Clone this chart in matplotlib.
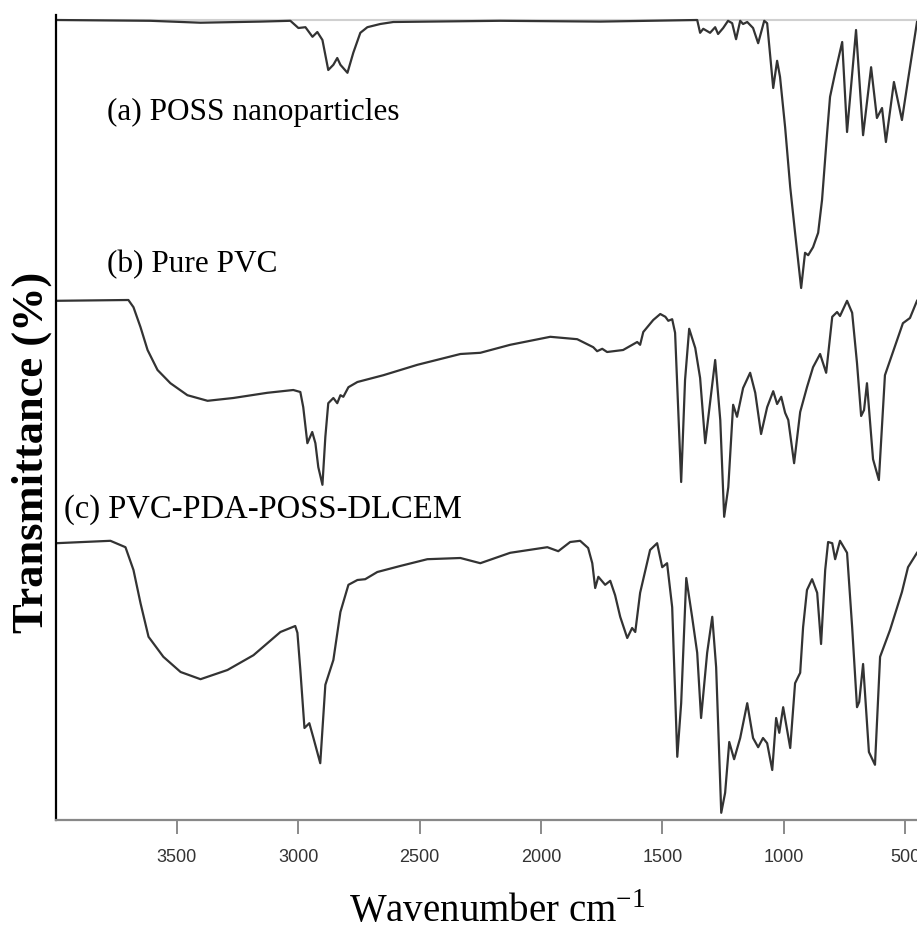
import numpy as np
import matplotlib
matplotlib.use('Agg')
import matplotlib.pyplot as plt

# wavenumber (cm-1) / stacked transmittance (arb. units, offset per spectrum)
wn_a = [3996, 3608, 3402, 3155, 3032, 2999, 2970, 2941, 2921, 2900, 2876, 2855, 2839, 2826,
        2797, 2773, 2744, 2715, 2662, 2608, 2168, 1756, 1357, 1345, 1332, 1304, 1283, 1271,
        1250, 1230, 1213, 1197, 1180, 1168, 1151, 1127, 1106, 1081, 1069, 1044, 1028, 1016,
        995, 974, 954, 929, 913, 900, 880, 859, 843, 822, 810, 789, 760, 740, 703, 674, 641,
        617, 596, 580, 547, 514, 489, 452]
t_a = [100.0, 99.9, 99.66, 99.8, 99.9, 99.0, 99.1, 97.9, 98.5, 97.5, 93.75, 94.4, 95.25, 94.4,
       93.4, 95.9, 98.4, 99.1, 99.5, 99.75, 99.9, 99.8, 100.0, 98.4, 98.9, 98.4, 99.1, 98.25,
       99.0, 99.9, 99.6, 97.6, 99.9, 99.5, 99.75, 99.0, 97.1, 99.9, 99.6, 91.5, 94.9, 92.9,
       86.6, 79.1, 73.4, 66.5, 70.9, 70.6, 71.6, 73.4, 77.5, 85.9, 90.4, 93.4, 97.25, 86.0,
       98.75, 85.6, 94.1, 87.75, 89.0, 84.75, 92.25, 87.5, 92.5, 99.75]

wn_b = [3996, 3699, 3678, 3649, 3620, 3579, 3526, 3456, 3373, 3267, 3127, 3020, 2991, 2979,
        2962, 2942, 2929, 2917, 2900, 2888, 2876, 2855, 2839, 2826, 2814, 2793, 2756, 2649,
        2509, 2332, 2250, 2127, 1962, 1851, 1785, 1769, 1748, 1728, 1662, 1604, 1592, 1579,
        1538, 1509, 1488, 1476, 1460, 1448, 1423, 1407, 1390, 1365, 1345, 1324, 1283, 1262,
        1246, 1229, 1209, 1193, 1168, 1139, 1118, 1094, 1069, 1044, 1028, 1011, 995, 982,
        958, 933, 905, 880, 851, 826, 801, 781, 769, 740, 719, 699, 682, 670, 658, 633, 609,
        584, 551, 510, 481, 452]
t_b = [64.9, 65.0, 64.1, 61.6, 58.75, 56.25, 54.6, 53.1, 52.4, 52.75, 53.4, 53.75, 53.5, 51.6,
       47.1, 48.5, 47.1, 44.1, 41.9, 47.9, 52.1, 52.75, 52.1, 53.1, 52.9, 54.1, 54.75, 55.6,
       56.9, 58.25, 58.4, 59.4, 60.4, 60.1, 59.1, 58.6, 58.9, 58.5, 58.75, 59.75, 59.4, 61.0,
       62.5, 63.25, 62.9, 62.4, 62.6, 60.9, 42.25, 55.0, 61.4, 59.0, 55.25, 47.1, 57.5, 50.0,
       37.9, 41.6, 51.9, 50.4, 54.0, 55.9, 53.4, 48.25, 51.6, 53.6, 52.0, 52.9, 50.9, 50.0,
       44.6, 51.0, 54.1, 56.6, 58.25, 55.9, 62.9, 63.5, 63.0, 64.9, 63.4, 57.1, 50.5, 51.25,
       54.6, 45.1, 42.5, 55.6, 58.5, 62.1, 62.75, 64.9]

wn_c = [3996, 3773, 3711, 3678, 3649, 3616, 3555, 3484, 3402, 3291, 3184, 3073, 3012, 3003,
        2991, 2974, 2954, 2937, 2909, 2888, 2855, 2826, 2793, 2756, 2724, 2674, 2580, 2468,
        2332, 2250, 2127, 1974, 1929, 1880, 1839, 1806, 1789, 1777, 1764, 1736, 1715, 1695,
        1674, 1645, 1625, 1612, 1592, 1551, 1522, 1501, 1481, 1460, 1439, 1423, 1402, 1378,
        1357, 1341, 1316, 1295, 1279, 1258, 1242, 1225, 1205, 1180, 1151, 1127, 1106, 1086,
        1069, 1048, 1032, 1019, 1003, 974, 954, 933, 921, 905, 884, 863, 847, 830, 818, 801,
        789, 769, 740, 719, 699, 690, 674, 650, 625, 604, 563, 514, 489, 452]
t_c = [34.6, 34.9, 34.1, 31.25, 27.1, 22.9, 20.4, 18.5, 17.6, 18.75, 20.6, 23.5, 24.25, 23.4,
       18.75, 11.5, 12.1, 10.25, 7.1, 16.9, 20.0, 26.0, 29.4, 30.0, 30.1, 31.0, 31.75, 32.6,
       32.75, 32.1, 33.4, 34.1, 33.6, 34.75, 34.9, 34.0, 32.1, 29.0, 30.4, 29.4, 29.9, 28.1,
       25.4, 22.75, 24.0, 23.5, 28.4, 33.75, 34.6, 31.6, 32.1, 26.6, 7.9, 14.6, 30.25, 25.4,
       20.9, 12.75, 20.9, 25.4, 19.1, 0.9, 3.4, 9.75, 7.6, 10.25, 14.6, 10.25, 9.1, 10.25,
       9.6, 6.25, 12.75, 10.9, 14.1, 9.0, 17.1, 18.4, 24.1, 28.75, 30.1, 28.4, 22.0, 31.25,
       34.75, 34.6, 32.6, 34.9, 33.4, 24.1, 14.1, 14.75, 19.5, 8.5, 6.9, 20.4, 23.75, 28.5,
       31.6, 33.4]

labels = ['(a) POSS nanoparticles', '(b) Pure PVC', '(c) PVC-PDA-POSS-DLCEM']
label_x = [3785, 3785, 3966]
label_y = [88.5, 69.4, 38.75]
label_size = [22.5, 22.5, 23.5]
xticks = [3500, 3000, 2500, 2000, 1500, 1000, 500]

fig = plt.figure(figsize=(9.17, 9.38), dpi=100)
ax = fig.add_axes([56/917, (938-820)/938, 1-56/917, (820-15)/938])

ax.axhline(100, color='#d0d0d0', lw=1.5, zorder=1)
for wn, t in [(wn_a, t_a), (wn_b, t_b), (wn_c, t_c)]:
    ax.plot(wn, t, color='#333333', lw=1.6, zorder=2, solid_joinstyle='round')

for s, x, y, fs in zip(labels, label_x, label_y, label_size):
    ax.text(x, y, s, fontsize=fs, family='Liberation Serif', va='center', ha='left')

ax.set_xlim(3997, 452)
ax.set_ylim(0, 805/8)
ax.set_xticks(xticks)
ax.set_xticklabels([str(v) for v in xticks], family='Liberation Sans', fontsize=13, color='#333333')
ax.tick_params(axis='x', length=10, width=1.2, color='#777777', pad=11)
ax.set_yticks([])

for side in ['top', 'right']:
    ax.spines[side].set_visible(False)
ax.spines['left'].set_color('black')
ax.spines['left'].set_linewidth(1.6)
ax.spines['bottom'].set_color('#888888')
ax.spines['bottom'].set_linewidth(1.6)

fig.text(497/917, 1-912/938, 'Wavenumber cm$^{\\mathregular{-1}}$', fontsize=28,
         family='Liberation Serif', ha='center', va='center')
fig.text(32/917, 1-452/938, 'Transmittance (%)', fontsize=32, family='Liberation Serif',
         fontweight='bold', rotation=90, ha='center', va='center')

fig.savefig('out.png', dpi=100)
